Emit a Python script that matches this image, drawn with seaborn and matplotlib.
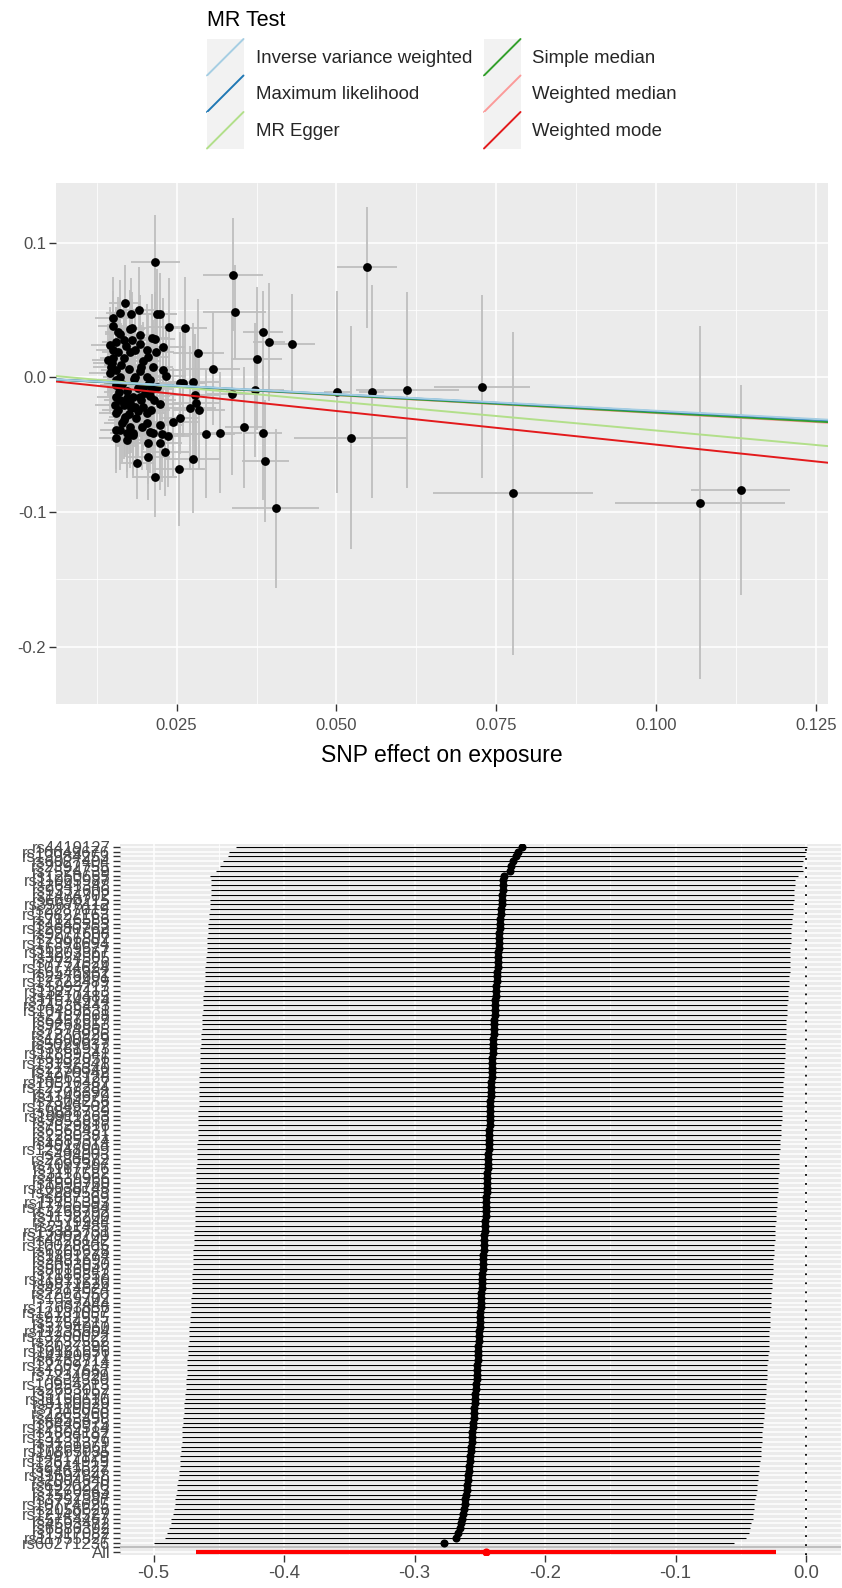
import numpy as np
import pandas as pd
import matplotlib
matplotlib.use("Agg")
import matplotlib.pyplot as plt
import seaborn as sns
from matplotlib.lines import Line2D
from matplotlib.patches import Rectangle
from matplotlib.legend_handler import HandlerBase
from matplotlib.ticker import MultipleLocator, FuncFormatter

# ---------------------------------------------
# scatter: SNP effect on exposure vs outcome
# ---------------------------------------------
snp_bx = [
    # dense cluster
    0.0169, 0.0161, 0.0151, 0.0178, 0.0191, 0.0219, 0.0224, 0.0238, 0.0263, 0.0159,
    0.0177, 0.0181, 0.0193, 0.0211, 0.0216, 0.0146, 0.0156, 0.0167, 0.0192, 0.0203,
    0.0218, 0.0229, 0.0284, 0.0143, 0.0151, 0.0167, 0.0177, 0.0197, 0.0195, 0.0213,
    0.0229, 0.0307, 0.0148, 0.0156, 0.0146, 0.0161, 0.0185, 0.0203, 0.0208, 0.0233,
    0.0255, 0.0260, 0.0276, 0.0219, 0.0206, 0.0198, 0.0156, 0.0161, 0.0172, 0.0182,
    0.0193, 0.0208, 0.0279, 0.0154, 0.0167, 0.0177, 0.0185, 0.0198, 0.0224, 0.0271,
    0.0281, 0.0285, 0.0156, 0.0169, 0.0203, 0.0164, 0.0177, 0.0203, 0.0224, 0.0245,
    0.0255, 0.0156, 0.0161, 0.0182, 0.0208, 0.0213, 0.0227, 0.0237, 0.0296, 0.0156,
    0.0172, 0.0182, 0.0206, 0.0224, 0.0232, 0.0276, 0.0188, 0.0206, 0.0254, 0.0216,
    # spread-out SNPs
    0.0217, 0.0338, 0.0341, 0.0548, 0.0385, 0.0394, 0.0431, 0.0375, 0.0373, 0.0337,
    0.0501, 0.0555, 0.0611, 0.0522, 0.0356, 0.0385, 0.0318, 0.0389, 0.0405, 0.0727,
    0.0776, 0.1069, 0.1132,
    # hidden inside the cluster
    0.0150, 0.0158, 0.0149, 0.0163, 0.0155, 0.0165, 0.0172, 0.0160, 0.0170, 0.0178,
    0.0159, 0.0176, 0.0190, 0.0187, 0.0167, 0.0195, 0.0201, 0.0189, 0.0212, 0.0215,
    0.0210, 0.0193, 0.0176, 0.0171, 0.0185, 0.0205, 0.0162, 0.0180, 0.0150, 0.0173,
    0.0196, 0.0155, 0.0183,
]
snp_by = [
    0.0554, 0.0475, 0.0443, 0.0470, 0.0500, 0.0468, 0.0468, 0.0376, 0.0369, 0.0339,
    0.0357, 0.0364, 0.0314, 0.0290, 0.0282, 0.0240, 0.0264, 0.0277, 0.0247, 0.0203,
    0.0190, 0.0227, 0.0183, 0.0129, 0.0141, 0.0141, 0.0190, 0.0123, 0.0079, 0.0074,
    0.0054, 0.0064, 0.0079, 0.0054, 0.0030, 0.0004, 0.0000, 0.0000, -0.0020, 0.0010,
    -0.0045, -0.0040, -0.0033, -0.0070, -0.0057, -0.0070, -0.0144, -0.0169, -0.0156, -0.0144,
    -0.0144, -0.0139, -0.0131, -0.0206, -0.0206, -0.0193, -0.0218, -0.0218, -0.0198, -0.0230,
    -0.0193, -0.0243, -0.0267, -0.0293, -0.0267, -0.0342, -0.0367, -0.0342, -0.0355, -0.0330,
    -0.0300, -0.0392, -0.0392, -0.0416, -0.0404, -0.0416, -0.0421, -0.0437, -0.0419, -0.0453,
    -0.0466, -0.0429, -0.0486, -0.0490, -0.0553, -0.0609, -0.0634, -0.0590, -0.0684, -0.0739,
    0.0857, 0.0762, 0.0487, 0.0817, 0.0339, 0.0262, 0.0250, 0.0138, -0.0094, -0.0126,
    -0.0107, -0.0107, -0.0094, -0.0449, -0.0371, -0.0411, -0.0411, -0.0622, -0.0973, -0.0070,
    -0.0862, -0.0932, -0.0840,
    0.0200, 0.0185, 0.0105, 0.0095, -0.0020, -0.0050, -0.0100, -0.0110, -0.0180, -0.0230,
    -0.0240, -0.0270, -0.0250, -0.0300, -0.0320, -0.0170, -0.0120, -0.0080, -0.0090, -0.0170,
    -0.0240, 0.0050, 0.0060, 0.0230, 0.0200, 0.0150, 0.0320, 0.0280, 0.0380, -0.0410,
    -0.0370, -0.0060, -0.0010,
]
snp_se_x = [
    0.0025, 0.0022, 0.0028, 0.0020, 0.0024, 0.0030, 0.0027, 0.0032, 0.0035, 0.0021,
    0.0023, 0.0026, 0.0024, 0.0029, 0.0031, 0.0030, 0.0022, 0.0025, 0.0027, 0.0033,
    0.0028, 0.0034, 0.0040, 0.0026, 0.0021, 0.0024, 0.0023, 0.0029, 0.0027, 0.0032,
    0.0030, 0.0042, 0.0028, 0.0024, 0.0033, 0.0026, 0.0025, 0.0030, 0.0028, 0.0031,
    0.0036, 0.0038, 0.0040, 0.0029, 0.0027, 0.0026, 0.0030, 0.0025, 0.0023, 0.0028,
    0.0026, 0.0031, 0.0039, 0.0032, 0.0024, 0.0022, 0.0027, 0.0029, 0.0034, 0.0041,
    0.0037, 0.0040, 0.0028, 0.0025, 0.0031, 0.0027, 0.0024, 0.0032, 0.0035, 0.0038,
    0.0030, 0.0026, 0.0029, 0.0033, 0.0028, 0.0031, 0.0036, 0.0034, 0.0045, 0.0027,
    0.0025, 0.0030, 0.0032, 0.0035, 0.0037, 0.0042, 0.0026, 0.0033, 0.0041, 0.0034,
    0.0038, 0.0047, 0.0049, 0.0047, 0.0031, 0.0025, 0.0036, 0.0040, 0.0045, 0.0040,
    0.0020, 0.0020, 0.0080, 0.0088, 0.0030, 0.0030, 0.0035, 0.0037, 0.0068, 0.0075,
    0.0125, 0.0133, 0.0078,
    0.0026, 0.0024, 0.0029, 0.0027, 0.0025, 0.0028, 0.0030, 0.0023, 0.0026, 0.0031,
    0.0025, 0.0029, 0.0032, 0.0027, 0.0024, 0.0030, 0.0033, 0.0028, 0.0031, 0.0034,
    0.0029, 0.0027, 0.0025, 0.0026, 0.0030, 0.0032, 0.0024, 0.0028, 0.0023, 0.0027,
    0.0031, 0.0025, 0.0029,
]
snp_se_y = [
    0.028, 0.025, 0.030, 0.027, 0.032, 0.034, 0.031, 0.036, 0.038, 0.026,
    0.029, 0.027, 0.030, 0.033, 0.035, 0.028, 0.026, 0.030, 0.029, 0.034,
    0.031, 0.036, 0.040, 0.027, 0.025, 0.030, 0.032, 0.029, 0.031, 0.035,
    0.033, 0.042, 0.028, 0.026, 0.030, 0.027, 0.029, 0.032, 0.031, 0.034,
    0.038, 0.040, 0.044, 0.033, 0.031, 0.030, 0.028, 0.026, 0.029, 0.031,
    0.030, 0.033, 0.045, 0.027, 0.029, 0.031, 0.030, 0.032, 0.036, 0.046,
    0.040, 0.044, 0.028, 0.030, 0.034, 0.029, 0.031, 0.035, 0.037, 0.040,
    0.027, 0.029, 0.030, 0.033, 0.031, 0.034, 0.036, 0.038, 0.048, 0.026,
    0.028, 0.030, 0.031, 0.035, 0.033, 0.040, 0.027, 0.032, 0.042, 0.030,
    0.035, 0.042, 0.035, 0.045, 0.030, 0.044, 0.037, 0.053, 0.050, 0.060,
    0.075, 0.079, 0.073, 0.083, 0.045, 0.050, 0.045, 0.045, 0.059, 0.068,
    0.120, 0.131, 0.078,
    0.029, 0.027, 0.030, 0.031, 0.028, 0.030, 0.032, 0.027, 0.029, 0.033,
    0.028, 0.030, 0.034, 0.031, 0.029, 0.032, 0.035, 0.030, 0.033, 0.036,
    0.031, 0.029, 0.028, 0.030, 0.031, 0.033, 0.027, 0.030, 0.026, 0.029,
    0.032, 0.028, 0.030,
]

method_names = ["Inverse variance weighted", "Maximum likelihood", "MR Egger",
                "Simple median", "Weighted median", "Weighted mode"]
method_slope = [-0.248, -0.252, -0.431, -0.262, -0.266, -0.500]
method_intercept = [0.0, 0.0, 0.0036, 0.0, 0.0, 0.0]
method_colors = ["#A6CEE3", "#1F78B4", "#B2DF8A", "#33A02C", "#FB9A99", "#E31A1C"]

# ---------------------------------------------
# leave-one-out: rows listed top to bottom
# ---------------------------------------------
loo_snp = """
rs4419127 rs10049676 rs13984253 rs6027404 rs2392755 rs7524739 rs1250655 rs11065987 rs2641348 rs9332606
rs1474702 rs6690215 rs35678112 rs2287019 rs10822163 rs7126586 rs4845553 rs12680762 rs9271608 rs2066807
rs17391694 rs6679677 rs11203367 rs3024505 rs7731626 rs10774624 rs6546932 rs2476601 rs12722489 rs1893217
rs13277113 rs4810485 rs11574914 rs34536443 rs10488631 rs2187668 rs6457617 rs9268853 rs7574865 rs2230926
rs1800629 rs5029937 rs3781913 rs11889341 rs6932056 rs13192841 rs2736340 rs1270942 rs4963128 rs10516487
rs12537284 rs7708392 rs1143679 rs2304256 rs17849502 rs9888739 rs10911363 rs3853839 rs7829816 rs6568431
rs2280381 rs1385374 rs4917014 rs12948909 rs494003 rs2286672 rs7097397 rs1167796 rs3117582 rs4639966
rs1990760 rs10036748 rs2289583 rs887369 rs11755393 rs17266594 rs3768792 rs1132200 rs7579944 rs2111485
rs13385731 rs12802200 rs4728142 rs10028805 rs6705628 rs1801274 rs2431697 rs3093030 rs8016947 rs7186852
rs11013210 rs6871626 rs4274624 rs2297550 rs1059702 rs7444 rs17603856 rs12131057 rs9782955 rs5754217
rs3794060 rs11235604 rs13200022 rs2732552 rs3027898 rs10181656 rs4240671 rs6762714 rs12369214 rs1077667
rs7234029 rs34330 rs10954213 rs2663052 rs3733197 rs11150610 rs8180029 rs7119038 rs2205960 rs4853458
rs6445975 rs12529514 rs1804182 rs13239597 rs3131379 rs7769961 rs10865035 rs4917129 rs12614919 rs2941522
rs9462027 rs11697848 rs2004640 rs6920220 rs1270943 rs7582694 rs3757387 rs10774625 rs2056626 rs12149527
rs5754467 rs4593472 rs6886392 rs1317082 rs11755527 rs60271236
""".split()
loo_b = [
    -0.2180, -0.2210, -0.2220, -0.2245, -0.2260, -0.2270, -0.2315, -0.2320, -0.2322, -0.2325,
    -0.2327, -0.2330, -0.2333, -0.2336, -0.2340, -0.2344, -0.2346, -0.2348, -0.2350, -0.2352,
    -0.2354, -0.2356, -0.2358, -0.2360, -0.2362, -0.2364, -0.2366, -0.2368, -0.2370, -0.2372,
    -0.2374, -0.2377, -0.2380, -0.2382, -0.2384, -0.2386, -0.2388, -0.2390, -0.2392, -0.2394,
    -0.2396, -0.2398, -0.2400, -0.2401, -0.2403, -0.2405, -0.2406, -0.2408, -0.2410, -0.2411,
    -0.2413, -0.2414, -0.2416, -0.2418, -0.2419, -0.2421, -0.2422, -0.2424, -0.2425, -0.2427,
    -0.2428, -0.2430, -0.2431, -0.2433, -0.2434, -0.2436, -0.2438, -0.2439, -0.2441, -0.2443,
    -0.2444, -0.2446, -0.2448, -0.2449, -0.2451, -0.2453, -0.2455, -0.2456, -0.2458, -0.2460,
    -0.2462, -0.2464, -0.2466, -0.2468, -0.2470, -0.2472, -0.2474, -0.2476, -0.2478, -0.2480,
    -0.2482, -0.2484, -0.2486, -0.2488, -0.2490, -0.2492, -0.2494, -0.2496, -0.2498, -0.2500,
    -0.2502, -0.2504, -0.2506, -0.2508, -0.2510, -0.2512, -0.2514, -0.2516, -0.2518, -0.2520,
    -0.2522, -0.2524, -0.2527, -0.2530, -0.2533, -0.2536, -0.2539, -0.2542, -0.2545, -0.2548,
    -0.2551, -0.2554, -0.2557, -0.2560, -0.2563, -0.2566, -0.2569, -0.2572, -0.2576, -0.2580,
    -0.2584, -0.2588, -0.2592, -0.2596, -0.2600, -0.2605, -0.2610, -0.2616, -0.2622, -0.2628,
    -0.2636, -0.2645, -0.2655, -0.2665, -0.2684, -0.2774,
]
loo_se = [
    0.1117, 0.1128, 0.1127, 0.1135, 0.1138, 0.1148, 0.1150, 0.1142, 0.1141, 0.1140,
    0.1141, 0.1140, 0.1139, 0.1140, 0.1141, 0.1140, 0.1142, 0.1141, 0.1140, 0.1141,
    0.1142, 0.1141, 0.1140, 0.1142, 0.1141, 0.1142, 0.1143, 0.1142, 0.1141, 0.1142,
    0.1142, 0.1143, 0.1142, 0.1141, 0.1142, 0.1143, 0.1142, 0.1143, 0.1142, 0.1143,
    0.1143, 0.1142, 0.1143, 0.1144, 0.1143, 0.1142, 0.1143, 0.1142, 0.1143, 0.1142,
    0.1142, 0.1141, 0.1142, 0.1141, 0.1140, 0.1141, 0.1140, 0.1141, 0.1140, 0.1139,
    0.1140, 0.1139, 0.1140, 0.1139, 0.1138, 0.1139, 0.1138, 0.1139, 0.1138, 0.1137,
    0.1138, 0.1137, 0.1138, 0.1137, 0.1136, 0.1137, 0.1136, 0.1137, 0.1136, 0.1135,
    0.1136, 0.1135, 0.1136, 0.1135, 0.1136, 0.1135, 0.1134, 0.1135, 0.1134, 0.1135,
    0.1134, 0.1135, 0.1134, 0.1133, 0.1134, 0.1133, 0.1134, 0.1133, 0.1134, 0.1133,
    0.1134, 0.1133, 0.1134, 0.1133, 0.1134, 0.1135, 0.1134, 0.1135, 0.1134, 0.1135,
    0.1134, 0.1135, 0.1134, 0.1135, 0.1134, 0.1135, 0.1136, 0.1135, 0.1134, 0.1135,
    0.1134, 0.1135, 0.1134, 0.1135, 0.1134, 0.1135, 0.1134, 0.1135, 0.1134, 0.1133,
    0.1134, 0.1133, 0.1134, 0.1133, 0.1134, 0.1135, 0.1134, 0.1133, 0.1134, 0.1135,
    0.1136, 0.1135, 0.1136, 0.1137, 0.1136, 0.1133,
]
all_b = -0.2452
all_se = 0.1134

# ---------------------------------------------
# style (ggplot-like grey panel)
# ---------------------------------------------
sns.set_theme(style="darkgrid", rc={
    "axes.facecolor": "#EBEBEB",
    "grid.color": "white",
    "axes.edgecolor": "none",
    "axes.unicode_minus": False,
    "xtick.bottom": True,
    "ytick.left": True,
    "xtick.color": "#333333",
    "ytick.color": "#333333",
    "xtick.labelcolor": "#4D4D4D",
    "ytick.labelcolor": "#4D4D4D",
    "xtick.major.size": 5,
    "ytick.major.size": 5,
    "xtick.major.width": 1.0,
    "ytick.major.width": 1.0,
    "xtick.major.pad": 2,
    "ytick.major.pad": 2,
})
plt.rcParams["font.family"] = ["Liberation Sans", "DejaVu Sans"]


def fmt_tick(digits):
    def f(v, pos):
        if abs(v) < 1e-9:
            v = 0.0
        return f"{v:.{digits}f}"
    return FuncFormatter(f)


W, H = 842, 1588
fig = plt.figure(figsize=(W / 100, H / 100), dpi=100)

# ---------------------------------------------
# panel 1: MR scatter
# ---------------------------------------------
ax1 = fig.add_axes([56 / W, 1 - 704 / H, 772 / W, 521 / H])
scat = pd.DataFrame({"bx": snp_bx, "by": snp_by, "se_x": snp_se_x, "se_y": snp_se_y})

ax1.errorbar(scat["bx"], scat["by"], yerr=scat["se_y"], fmt="none",
             ecolor="#BEBEBE", elinewidth=1.3, zorder=2)
ax1.errorbar(scat["bx"], scat["by"], xerr=scat["se_x"], fmt="none",
             ecolor="#BEBEBE", elinewidth=1.3, zorder=2)
sns.scatterplot(data=scat, x="bx", y="by", color="black", s=40,
                linewidth=0, ax=ax1, zorder=3)

# draw so that IVW ends up on top, keep legend order
line_handles = []
for k, (a, b, c) in enumerate(zip(method_intercept, method_slope, method_colors)):
    ln = ax1.axline((0, a), slope=b, color=c, lw=1.4, zorder=10 - k)
    line_handles.append(ln)

ax1.set_xlim(0.00614, 0.12688)
ax1.set_ylim(-0.2427, 0.1444)
ax1.xaxis.set_major_locator(MultipleLocator(0.025))
ax1.xaxis.set_minor_locator(MultipleLocator(0.0125))
ax1.yaxis.set_major_locator(MultipleLocator(0.1))
ax1.yaxis.set_minor_locator(MultipleLocator(0.05))
ax1.xaxis.set_major_formatter(fmt_tick(3))
ax1.yaxis.set_major_formatter(fmt_tick(1))
ax1.grid(which="major", color="white", lw=1.1)
ax1.grid(which="minor", color="white", lw=0.55)
ax1.tick_params(which="minor", length=0)
ax1.tick_params(labelsize=12)
ax1.tick_params(axis="x", pad=5)
ax1.set_xlabel("SNP effect on exposure", fontsize=16.5, color="black", labelpad=8)
ax1.set_ylabel("")


class AblineKey(HandlerBase):
    # ggplot style key: grey square with a diagonal line
    def create_artists(self, legend, orig, xd, yd, w, h, fs, trans):
        bg = Rectangle((-xd, -yd), w, h, facecolor="#F2F2F2", edgecolor="none", transform=trans)
        ln = Line2D([-xd, -xd + w], [-yd, -yd + h], color=orig.get_color(),
                    lw=orig.get_linewidth(), transform=trans)
        return [bg, ln]


# legend centred above the panel, two columns of square keys
leg_fs = 13.4
px = leg_fs * 100 / 72
key_px = 36.5
row_pt = key_px * 72 / 100
hh = (row_pt - 0.245 * leg_fs) / (0.65 * leg_fs)
for col, x0 in enumerate([207, 484]):
    hs = line_handles[3 * col:3 * col + 3]
    fig.legend(handles=hs, labels=method_names[3 * col:3 * col + 3], loc="upper left",
               bbox_to_anchor=(x0 / W, 1 - 39 / H), ncol=1, frameon=False,
               handler_map={h: AblineKey() for h in hs},
               prop={"family": "Liberation Sans", "size": leg_fs},
               handlelength=key_px / px, handleheight=hh, labelspacing=0,
               handletextpad=12 / px, borderpad=0, borderaxespad=0)
fig.text(207 / W, 1 - 20 / H, "MR Test", fontsize=15.5, ha="left", va="center", color="black")

# ---------------------------------------------
# panel 2: leave-one-out forest
# ---------------------------------------------
ax2 = fig.add_axes([120 / W, 1 - 1555 / H, 721 / W, 711 / H])
n = len(loo_snp)
loo = pd.DataFrame({"snp": loo_snp, "b": loo_b, "se": loo_se})
loo["pos"] = np.arange(n + 1, 1, -1)
loo["lo"] = loo["b"] - 1.96 * loo["se"]
loo["up"] = loo["b"] + 1.96 * loo["se"]

ax2.axvline(0, color="black", lw=1.3, ls=(0, (1, 4)), zorder=2)
ax2.axhline(1, color="#BEBEBE", lw=1.4, zorder=2)
ax2.hlines(loo["pos"], loo["lo"], loo["up"], color="black", lw=0.8, zorder=3)
sns.scatterplot(data=loo, x="b", y="pos", color="black", s=34, linewidth=0, ax=ax2, zorder=4)
ax2.hlines([0], [all_b - 1.96 * all_se], [all_b + 1.96 * all_se], color="red", lw=3.0, zorder=3)
ax2.scatter([all_b], [0], color="red", s=34, linewidths=0, zorder=4)

ax2.set_xlim(-0.5257, 0.0268)
ax2.set_ylim(-0.6, n + 1.6)
ax2.set_yticks(list(loo["pos"]) + [1, 0])
ax2.set_yticklabels(list(loo["snp"]) + ["", "All"], fontsize=12)
ax2.xaxis.set_major_locator(MultipleLocator(0.1))
ax2.xaxis.set_minor_locator(MultipleLocator(0.05))
ax2.xaxis.set_major_formatter(fmt_tick(1))
ax2.grid(which="major", color="white", lw=1.1)
ax2.grid(which="minor", axis="x", color="white", lw=0.55)
ax2.tick_params(which="minor", length=0)
ax2.tick_params(axis="x", labelsize=13.3)
ax2.set_xlabel("")
ax2.set_ylabel("")

fig.savefig("out.png", dpi=100)
